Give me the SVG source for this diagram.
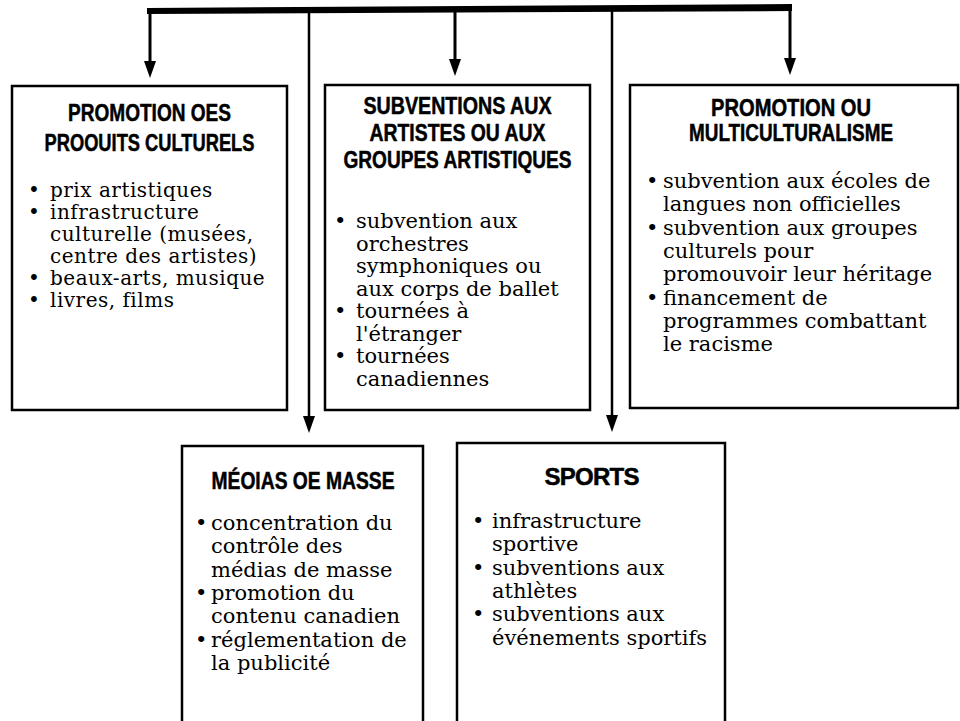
<svg xmlns="http://www.w3.org/2000/svg" width="960" height="721" viewBox="0 0 960 721">
  <defs>
    <marker id="arrow" markerUnits="userSpaceOnUse" markerWidth="18" markerHeight="12" refX="7" refY="6" orient="auto" overflow="visible">
      <path d="M0,0 L17,6 L0,12 Z" fill="#000"/>
    </marker>
    <style>
      .box { fill: #fff; stroke: #000; stroke-width: 2.5; }
      .title { font-family: "Liberation Sans", Arial, sans-serif; font-weight: bold; font-size: 24px; fill: #000; stroke: #000; stroke-width: 0.5; text-anchor: middle; }
      .item { font-family: "DejaVu Serif", "Liberation Serif", serif; font-size: 21px; fill: #000; }
      .tight { font-size: 20px; letter-spacing: 0.5px; }
      .wire { fill: none; stroke: #000; stroke-width: 3; }
    </style>
  </defs>
  <rect width="960" height="721" fill="#fff"/>

  <g id="connectors">
    <polygon points="147,8 792,4 792,11 147,14" fill="#000"/>
    <line class="wire" x1="150" y1="12" x2="150" y2="68" marker-end="url(#arrow)"/>
    <line class="wire" x1="455" y1="8" x2="455" y2="66" marker-end="url(#arrow)"/>
    <line class="wire" x1="790" y1="6" x2="790" y2="65" marker-end="url(#arrow)"/>
    <line class="wire" x1="309" y1="11" x2="309" y2="423" marker-end="url(#arrow)" style="stroke-width:2.5"/>
    <line class="wire" x1="612" y1="8" x2="612" y2="422" marker-end="url(#arrow)" style="stroke-width:2.5"/>
  </g>

  <g id="node-produits">
    <rect class="box" x="12" y="86" width="275" height="324"/>
    <text class="title" x="149.5" y="121" textLength="163" lengthAdjust="spacingAndGlyphs">PROMOTION OES</text>
    <text class="title" x="149.5" y="151" textLength="210" lengthAdjust="spacingAndGlyphs">PROOUITS CULTURELS</text>
    <text class="item tight" y="197"><tspan x="28">•</tspan><tspan x="50">prix artistiques</tspan></text>
    <text class="item tight" y="219"><tspan x="28">•</tspan><tspan x="50">infrastructure</tspan></text>
    <text class="item tight" x="50" y="241">culturelle (musées,</text>
    <text class="item tight" x="50" y="263">centre des artistes)</text>
    <text class="item tight" y="285"><tspan x="28">•</tspan><tspan x="50">beaux-arts, musique</tspan></text>
    <text class="item tight" y="307"><tspan x="28">•</tspan><tspan x="50">livres, films</tspan></text>
  </g>

  <g id="node-subventions">
    <rect class="box" x="325" y="85" width="265" height="325"/>
    <text class="title" x="457.5" y="114" textLength="188" lengthAdjust="spacingAndGlyphs">SUBVENTIONS AUX</text>
    <text class="title" x="457.5" y="141" textLength="176" lengthAdjust="spacingAndGlyphs">ARTISTES OU AUX</text>
    <text class="title" x="457.5" y="168" textLength="228" lengthAdjust="spacingAndGlyphs">GROUPES ARTISTIQUES</text>
    <text class="item" y="228"><tspan x="334">•</tspan><tspan x="356">subvention aux</tspan></text>
    <text class="item" x="356" y="250.5">orchestres</text>
    <text class="item" x="356" y="273">symphoniques ou</text>
    <text class="item" x="356" y="295.5">aux corps de ballet</text>
    <text class="item" y="318"><tspan x="334">•</tspan><tspan x="356">tournées à</tspan></text>
    <text class="item" x="356" y="340.5">l'étranger</text>
    <text class="item" y="363"><tspan x="334">•</tspan><tspan x="356">tournées</tspan></text>
    <text class="item" x="356" y="385.5">canadiennes</text>
  </g>

  <g id="node-multiculturalisme">
    <rect class="box" x="630" y="85" width="328" height="323"/>
    <text class="title" x="791" y="116" textLength="160" lengthAdjust="spacingAndGlyphs">PROMOTION OU</text>
    <text class="title" x="791" y="141" textLength="204" lengthAdjust="spacingAndGlyphs">MULTICULTURALISME</text>
    <text class="item" y="188"><tspan x="646">•</tspan><tspan x="663">subvention aux écoles de</tspan></text>
    <text class="item" x="663" y="211">langues non officielles</text>
    <text class="item" y="234.5"><tspan x="646">•</tspan><tspan x="663">subvention aux groupes</tspan></text>
    <text class="item" x="663" y="258">culturels pour</text>
    <text class="item" x="663" y="281">promouvoir leur héritage</text>
    <text class="item" y="304.5"><tspan x="646">•</tspan><tspan x="663">financement de</tspan></text>
    <text class="item" x="663" y="328">programmes combattant</text>
    <text class="item" x="663" y="351">le racisme</text>
  </g>

  <g id="node-medias">
    <rect class="box" x="182" y="446" width="241" height="290"/>
    <text class="title" x="303" y="489" textLength="183" lengthAdjust="spacingAndGlyphs">MÉOIAS OE MASSE</text>
    <text class="item" y="530"><tspan x="195">•</tspan><tspan x="211">concentration du</tspan></text>
    <text class="item" x="211" y="553">contrôle des</text>
    <text class="item" x="211" y="576.5">médias de masse</text>
    <text class="item" y="600"><tspan x="195">•</tspan><tspan x="211">promotion du</tspan></text>
    <text class="item" x="211" y="623">contenu canadien</text>
    <text class="item" y="646.5"><tspan x="195">•</tspan><tspan x="211">réglementation de</tspan></text>
    <text class="item" x="211" y="670">la publicité</text>
  </g>

  <g id="node-sports">
    <rect class="box" x="457" y="443" width="268" height="293"/>
    <text class="title" x="592" y="485" textLength="95" lengthAdjust="spacing">SPORTS</text>
    <text class="item" y="528"><tspan x="472">•</tspan><tspan x="492">infrastructure</tspan></text>
    <text class="item" x="492" y="551">sportive</text>
    <text class="item" y="574.5"><tspan x="472">•</tspan><tspan x="492">subventions aux</tspan></text>
    <text class="item" x="492" y="598">athlètes</text>
    <text class="item" y="621"><tspan x="472">•</tspan><tspan x="492">subventions aux</tspan></text>
    <text class="item" x="492" y="644.5">événements sportifs</text>
  </g>
</svg>
